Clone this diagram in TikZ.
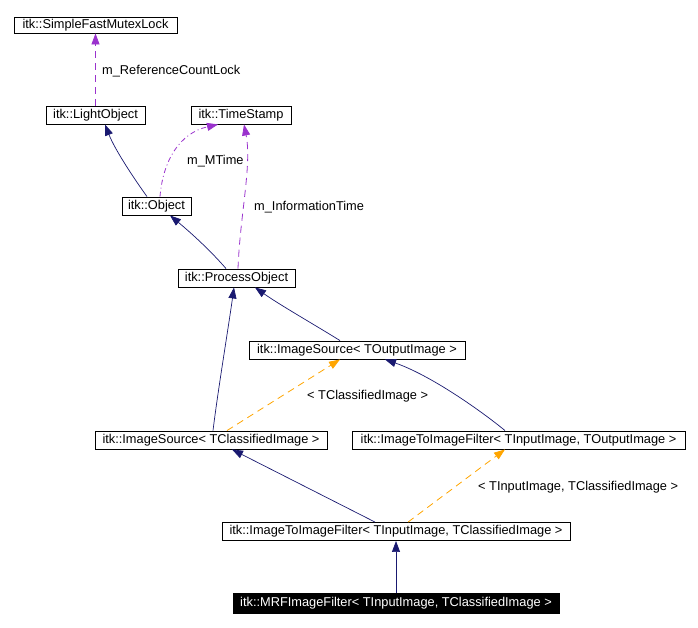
\documentclass[tikz,border=0pt]{standalone}
\usepackage{fontspec}
\setmainfont{Liberation Sans}
\usetikzlibrary{arrows.meta,calc}
\definecolor{navyc}{HTML}{191970}
\definecolor{purp}{HTML}{9A32CD}
\definecolor{orng}{HTML}{FFA500}
\begin{document}
\begin{tikzpicture}[x=1pt,y=-1pt,
  every node/.style={font=\fontsize{12.8}{15}\selectfont},
  cls/.style={draw=black, line width=0.9pt, inner sep=0pt, minimum height=18pt},
  cur/.style={cls, fill=black, text=white},
  lbl/.style={inner sep=0pt, anchor=west},
  inh/.style={draw=navyc, line width=0.7pt, -{Triangle[length=11pt,width=8pt]}},
  usep/.style={draw=purp, line width=0.8pt, dash pattern=on 7pt off 5pt, -{Triangle[length=11pt,width=8pt]}},
  usepd/.style={draw=purp, line width=0.8pt, dash pattern=on 5pt off 3pt on 1pt off 3pt, -{Triangle[length=11pt,width=8pt]}},
  tmpl/.style={draw=orng, line width=0.8pt, dash pattern=on 7pt off 5pt, -{Triangle[length=11pt,width=8pt]}}]
\useasboundingbox (0,0) rectangle (698,627);
\node[cls, minimum width=163pt, minimum height=16pt] (sfml) at (95.5,25) {itk::SimpleFastMutexLock};
\node[cls, minimum width=99pt] (lo) at (95.5,115) {itk::LightObject};
\node[cls, minimum width=100pt] (ts) at (241,115) {itk::TimeStamp};
\node[cls, minimum width=69pt] (obj) at (156.5,206) {itk::Object};
\node[cls, minimum width=117pt] (po) at (236.5,278) {itk::ProcessObject};
\node[cls, minimum width=216pt] (iso) at (357,350) {itk::ImageSource< TOutputImage >};
\node[cls, minimum width=232pt] (isc) at (211,440) {itk::ImageSource< TClassifiedImage >};
\node[cls, minimum width=333pt] (itio) at (518.5,440) {itk::ImageToImageFilter< TInputImage, TOutputImage >};
\node[cls, minimum width=348pt] (itic) at (396,531.5) {itk::ImageToImageFilter< TInputImage, TClassifiedImage >};
\node[cur, minimum width=326pt, minimum height=20pt] (mrf) at (396,603) {itk::MRFImageFilter< TInputImage, TClassifiedImage >};

\draw[usep] (lo.north) -- (sfml.south);
\node[lbl] (l1) at (102,71) {m\_ReferenceCountLock};

\draw[inh] ([xshift=-9.5pt]obj.north) .. controls (135,180) and (115,150) .. ([xshift=9.5pt]lo.south);

\draw[usepd] ([xshift=3.5pt]obj.north) .. controls (163,160) and (180,133) .. ([xshift=-23pt]ts.south);
\node[lbl] (l2) at (187,161) {m\_MTime};

\draw[usep] ([xshift=1.5pt]po.north) .. controls (240,215) and (252,165) .. ([xshift=3pt]ts.south);
\node[lbl] (l3) at (254,207) {m\_InformationTime};

\draw[inh] ([xshift=-10.5pt]po.north) .. controls (210,250) and (190,232) .. ([xshift=13.5pt]obj.south);

\draw[inh] ([xshift=-17pt]iso.north) .. controls (310,322) and (280,305) .. ([xshift=18.5pt]po.south);

\draw[inh] ([xshift=2pt]isc.north) .. controls (218,390) and (228,330) .. ([xshift=-2.5pt]po.south);

\draw[tmpl] ([xshift=16pt]isc.north) -- ([xshift=-17pt]iso.south);
\node[lbl] (l4) at (307,396) {< TClassifiedImage >};

\draw[inh] ([xshift=-13.5pt]itio.north) .. controls (480,410) and (430,375) .. ([xshift=28pt]iso.south);

\draw[inh] ([xshift=-21pt]itic.north) -- ([xshift=21pt]isc.south);

\draw[tmpl] ([xshift=12pt]itic.north) -- ([xshift=-13.5pt]itio.south);
\node[lbl] (l5) at (478,487) {< TInputImage, TClassifiedImage >};

\draw[inh] (mrf.north) -- (itic.south);
\end{tikzpicture}
\end{document}
